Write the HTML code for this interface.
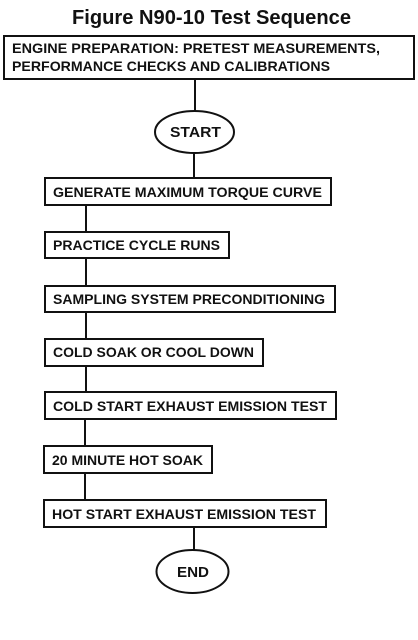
<!DOCTYPE html>
<html><head><meta charset="utf-8"><style>
html,body{margin:0;padding:0;background:#fff;width:418px;height:640px;overflow:hidden}
text{font-family:"Liberation Sans",Arial,sans-serif;font-weight:bold;fill:#111}
</style></head><body>
<svg width="418" height="640" viewBox="0 0 418 640" xmlns="http://www.w3.org/2000/svg">
<g stroke="#111" stroke-width="2" fill="none">
<rect x="4" y="36" width="410" height="43"/>
<line x1="195" y1="79" x2="195" y2="111"/>
<ellipse cx="194.5" cy="132" rx="39.5" ry="21"/>
<line x1="194" y1="153" x2="194" y2="178"/>
<rect x="45" y="178" width="286" height="27"/>
<line x1="86" y1="205" x2="86" y2="232"/>
<rect x="45" y="232" width="184" height="26"/>
<line x1="86" y1="258" x2="86" y2="286"/>
<rect x="45" y="286" width="290" height="26"/>
<line x1="86" y1="312" x2="86" y2="339"/>
<rect x="45" y="339" width="218" height="27"/>
<line x1="86" y1="366" x2="86" y2="392"/>
<rect x="45" y="392" width="291" height="27"/>
<line x1="85" y1="419" x2="85" y2="446"/>
<rect x="44" y="446" width="168" height="27"/>
<line x1="85" y1="473" x2="85" y2="500"/>
<rect x="44" y="500" width="282" height="27"/>
<line x1="194" y1="527" x2="194" y2="550"/>
<ellipse cx="192.5" cy="571.5" rx="36" ry="21.5"/>
</g>
<text x="72" y="24" font-size="20" textLength="279" lengthAdjust="spacingAndGlyphs">Figure N90-10 Test Sequence</text>
<text x="12" y="53" font-size="14" textLength="368" lengthAdjust="spacingAndGlyphs">ENGINE PREPARATION: PRETEST MEASUREMENTS,</text>
<text x="12" y="71" font-size="14" textLength="318" lengthAdjust="spacingAndGlyphs">PERFORMANCE CHECKS AND CALIBRATIONS</text>
<text x="170" y="137" font-size="15" textLength="51" lengthAdjust="spacingAndGlyphs">START</text>
<text x="53" y="197" font-size="13.5" textLength="269" lengthAdjust="spacingAndGlyphs">GENERATE MAXIMUM TORQUE CURVE</text>
<text x="53" y="250" font-size="13.5" textLength="167" lengthAdjust="spacingAndGlyphs">PRACTICE CYCLE RUNS</text>
<text x="53" y="304" font-size="13.5" textLength="272" lengthAdjust="spacingAndGlyphs">SAMPLING SYSTEM PRECONDITIONING</text>
<text x="53" y="357" font-size="13.5" textLength="201" lengthAdjust="spacingAndGlyphs">COLD SOAK OR COOL DOWN</text>
<text x="53" y="411" font-size="13.5" textLength="274" lengthAdjust="spacingAndGlyphs">COLD START EXHAUST EMISSION TEST</text>
<text x="52" y="465" font-size="13.5" textLength="151" lengthAdjust="spacingAndGlyphs">20 MINUTE HOT SOAK</text>
<text x="52" y="519" font-size="13.5" textLength="264" lengthAdjust="spacingAndGlyphs">HOT START EXHAUST EMISSION TEST</text>
<text x="177" y="577" font-size="15" textLength="32" lengthAdjust="spacingAndGlyphs">END</text>
</svg>
</body></html>
